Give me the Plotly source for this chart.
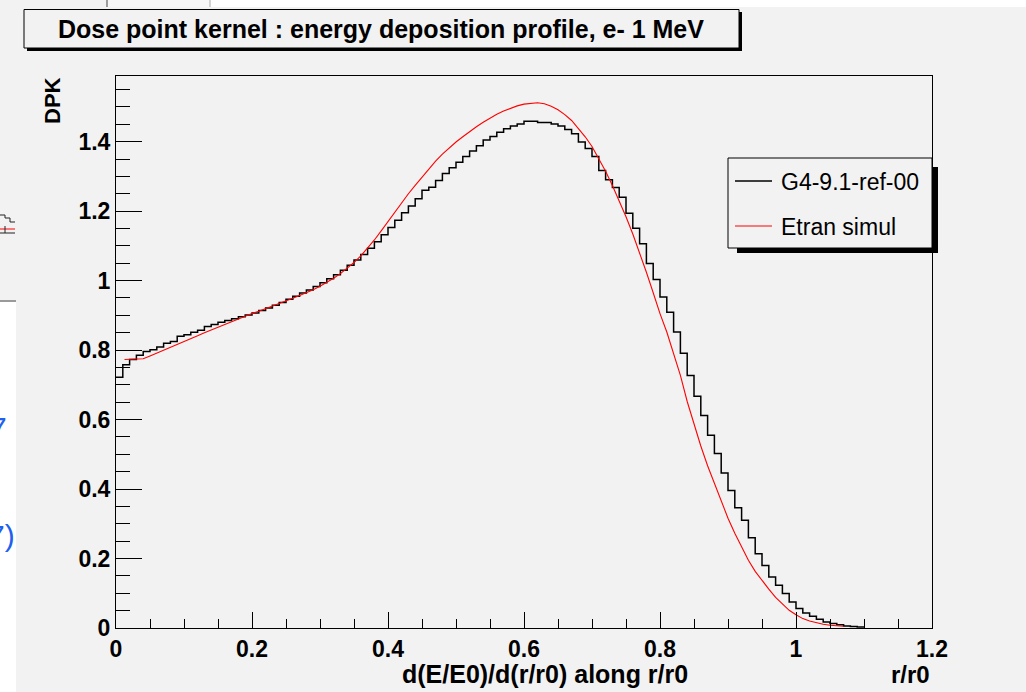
import plotly.graph_objects as go

# ---------------- data ----------------
title_text = "Dose point kernel : energy deposition profile, e- 1 MeV"
x_title = "d(E/E0)/d(r/r0) along r/r0"
x_unit = "r/r0"
y_title = "DPK"
series_g4 = "G4-9.1-ref-00"
series_etran = "Etran simul"

bin_width = 0.01
g4_dpk = [
    0.722, 0.758, 0.773, 0.785, 0.796, 0.801, 0.809, 0.820, 0.825, 0.840,
    0.844, 0.851, 0.857, 0.868, 0.874, 0.880, 0.885, 0.890, 0.896, 0.901,
    0.907, 0.914, 0.921, 0.929, 0.937, 0.946, 0.955, 0.964, 0.973, 0.983,
    0.994, 1.005, 1.017, 1.030, 1.044, 1.059, 1.075, 1.093, 1.112, 1.132,
    1.153, 1.174, 1.195, 1.215, 1.236, 1.260, 1.269, 1.288, 1.308, 1.325,
    1.341, 1.357, 1.373, 1.388, 1.405, 1.415, 1.427, 1.437, 1.445, 1.451,
    1.459, 1.459, 1.455, 1.455, 1.451, 1.445, 1.435, 1.423, 1.399, 1.380,
    1.357, 1.317, 1.290, 1.268, 1.240, 1.194, 1.151, 1.106, 1.049, 1.003,
    0.953, 0.909, 0.852, 0.791, 0.727, 0.667, 0.612, 0.555, 0.502, 0.446,
    0.396, 0.346, 0.310, 0.260, 0.214, 0.180, 0.147, 0.123, 0.099, 0.075,
    0.056, 0.043, 0.034, 0.025, 0.017, 0.013, 0.009, 0.006, 0.004, 0.003,
]

etran_r = [0.0125] + [round(0.01 * k, 2) for k in range(2, 108)]
etran_dpk = [
    0.773, 0.773, 0.773, 0.775, 0.783, 0.791, 0.800, 0.808, 0.816, 0.825,
    0.833, 0.841, 0.850, 0.858, 0.866, 0.875, 0.883, 0.890, 0.897, 0.905,
    0.912, 0.919, 0.926, 0.933, 0.941, 0.949, 0.957, 0.965, 0.974, 0.984,
    0.995, 1.007, 1.020, 1.035, 1.052, 1.071, 1.093, 1.117, 1.143, 1.170,
    1.198, 1.226, 1.250, 1.274, 1.298, 1.322, 1.344, 1.364, 1.382, 1.399,
    1.414, 1.429, 1.443, 1.456, 1.468, 1.479, 1.488, 1.496, 1.503, 1.508,
    1.511, 1.512, 1.509, 1.502, 1.492, 1.478, 1.461, 1.439, 1.414, 1.386,
    1.352, 1.315, 1.274, 1.230, 1.184, 1.134, 1.081, 1.024, 0.965, 0.905,
    0.852, 0.792, 0.727, 0.652, 0.585, 0.524, 0.467, 0.417, 0.363, 0.316,
    0.273, 0.232, 0.195, 0.163, 0.136, 0.112, 0.088, 0.068, 0.051, 0.038,
    0.027, 0.020, 0.015, 0.011, 0.008, 0.006, 0.005,
]

x_ticks = [0, 0.2, 0.4, 0.6, 0.8, 1.0, 1.2]
x_ticklabels = ["0", "0.2", "0.4", "0.6", "0.8", "1", "1.2"]
y_ticks = [0, 0.2, 0.4, 0.6, 0.8, 1.0, 1.2, 1.4]
y_ticklabels = ["0", "0.2", "0.4", "0.6", "0.8", "1", "1.2", "1.4"]
x_range = [0, 1.2]
y_range = [0, 1.589]

# ---------------- layout helpers ----------------
W, H = 1026, 692
L, R, T, B = 116, 932, 76, 628
FONT = "Liberation Sans, Arial, Helvetica, sans-serif"
BG = "#f2f2f2"


def px(p):
    return (p - L) / (R - L)


def py(p):
    return (B - p) / (B - T)


def rect(x0, y0, x1, y1, fill, line_color=None, lw=0, layer="above"):
    return dict(type="rect", xref="paper", yref="paper",
                x0=px(x0), x1=px(x1), y0=py(y1), y1=py(y0),
                fillcolor=fill, line=dict(color=line_color or fill, width=lw),
                layer=layer)


def seg(x0, y0, x1, y1, color, lw=1):
    return dict(type="line", xref="paper", yref="paper",
                x0=px(x0), x1=px(x1), y0=py(y0), y1=py(y1),
                line=dict(color=color, width=lw))


edges = [round(i * bin_width, 4) for i in range(len(g4_dpk) + 1)]
g4_steps = g4_dpk + [g4_dpk[-1]]

fig = go.Figure()
fig.add_trace(go.Scatter(x=edges, y=g4_steps, mode="lines", line_shape="hv",
                         line=dict(color="black", width=1.5), name=series_g4,
                         showlegend=False, hoverinfo="skip"))
fig.add_trace(go.Scatter(x=etran_r, y=etran_dpk, mode="lines",
                         line=dict(color="#ff0000", width=1.1), name=series_etran,
                         showlegend=False, hoverinfo="skip"))

shapes = []
# surrounding screenshot fragments
shapes.append(rect(107, 0, 210, 7, "#f6f6f6", "#f6f6f6", 0))
shapes.append(rect(210, 0, W, 7, "white"))
shapes.append(seg(107, 0, 107, 7, "#444", 1))
shapes.append(seg(210, 0, 210, 7, "#aaa", 1))
shapes.append(rect(0, 301, 16, H, "white"))
shapes.append(seg(0, 301, 16, 301, "#9a9a9a", 2))
shapes.append(seg(0, 215, 5, 215, "#222", 1))
shapes.append(seg(5, 215, 5, 218, "#222", 1))
shapes.append(seg(5, 218, 10, 218, "#222", 1))
shapes.append(seg(10, 218, 10, 222, "#222", 1))
shapes.append(seg(10, 222, 15, 222, "#222", 1))
shapes.append(seg(0, 229, 15, 229, "#ff0000", 1))
shapes.append(seg(0, 233, 15, 233, "#222", 1))
shapes.append(seg(5, 226, 5, 233, "#222", 1))

# title box with shadow
shapes.append(rect(27, 12, 742, 51, "black"))
shapes.append(rect(24, 9.5, 739, 48, BG, "black", 1))

# legend box with shadow
shapes.append(rect(737, 167, 938, 253, "black"))
shapes.append(rect(728, 158, 932, 248, BG, "black", 1))
shapes.append(seg(735, 181, 772, 181, "black", 1.5))
shapes.append(seg(735, 226, 772, 226, "#ff0000", 1.2))

annotations = [
    dict(text=title_text, x=px(381), y=py(29), xref="paper", yref="paper",
         showarrow=False, xanchor="center", yanchor="middle",
         font=dict(family=FONT, size=25, color="black", weight="bold")),
    dict(text=series_g4, x=px(779), y=py(182), xref="paper", yref="paper",
         showarrow=False, xanchor="left", yanchor="middle",
         font=dict(family=FONT, size=23, color="black")),
    dict(text=series_etran, x=px(779), y=py(227), xref="paper", yref="paper",
         showarrow=False, xanchor="left", yanchor="middle",
         font=dict(family=FONT, size=23, color="black")),
    dict(text=y_title, x=px(53), y=py(101), xref="paper", yref="paper",
         showarrow=False, xanchor="center", yanchor="middle", textangle=-90,
         font=dict(family=FONT, size=22, color="black", weight="bold")),
    dict(text=x_title, x=px(690), y=py(674), xref="paper", yref="paper",
         showarrow=False, xanchor="right", yanchor="middle",
         font=dict(family=FONT, size=25, color="black", weight="bold")),
    dict(text=x_unit, x=px(932), y=py(674), xref="paper", yref="paper",
         showarrow=False, xanchor="right", yanchor="middle",
         font=dict(family=FONT, size=24, color="black", weight="bold")),
    dict(text="7", x=px(9), y=py(427), xref="paper", yref="paper",
         showarrow=False, xanchor="right", yanchor="middle",
         font=dict(family=FONT, size=30, color="#2060ee")),
    dict(text="7)", x=px(17), y=py(535), xref="paper", yref="paper",
         showarrow=False, xanchor="right", yanchor="middle",
         font=dict(family=FONT, size=30, color="#2060ee")),
]

axis_common = dict(showline=True, linecolor="black", linewidth=1, mirror=True,
                   showgrid=False, zeroline=False, ticks="inside",
                   tickcolor="black", tickwidth=1,
                   tickfont=dict(family=FONT, size=23, color="black", weight="bold"))

fig.update_layout(
    width=W, height=H, autosize=False,
    margin=dict(l=L, r=W - R, t=T, b=H - B, pad=0),
    paper_bgcolor=BG, plot_bgcolor=BG,
    showlegend=False,
    shapes=shapes, annotations=annotations,
    xaxis=dict(range=x_range, tickmode="array", tickvals=x_ticks,
               ticktext=x_ticklabels, ticklen=16,
               minor=dict(dtick=0.05, ticklen=9, ticks="inside", tickcolor="black", tickwidth=1),
               **axis_common),
    yaxis=dict(range=y_range, tickmode="array", tickvals=y_ticks,
               ticktext=y_ticklabels, ticklen=26,
               minor=dict(dtick=0.05, ticklen=14, ticks="inside", tickcolor="black", tickwidth=1),
               **axis_common),
)

fig.write_html(
    "out.html",
    config={"displayModeBar": False},
    post_script="document.body.style.margin='0px';document.body.style.padding='0px';"
                "document.body.style.overflow='hidden';",
)
